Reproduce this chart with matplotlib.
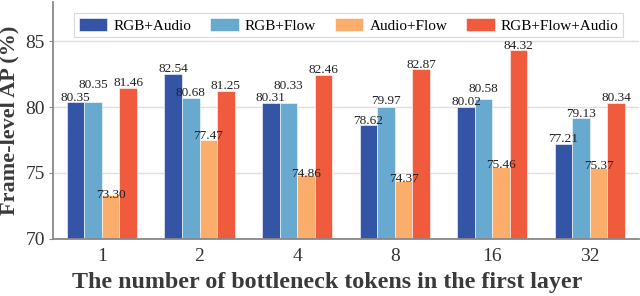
import matplotlib.pyplot as plt
import numpy as np

plt.rcParams['font.family'] = ['Liberation Serif', 'DejaVu Serif']

groups = ['1', '2', '4', '8', '16', '32']
series = ['RGB+Audio', 'RGB+Flow', 'Audio+Flow', 'RGB+Flow+Audio']
rgb_audio = [80.35, 82.54, 80.31, 78.62, 80.02, 77.21]
rgb_flow = [80.35, 80.68, 80.33, 79.97, 80.58, 79.13]
audio_flow = [73.30, 77.47, 74.86, 74.37, 75.46, 75.37]
rgb_flow_audio = [81.46, 81.25, 82.46, 82.87, 84.32, 80.34]
colors = ['#3454a6', '#67a9cf', '#fbae6c', '#f15b3d']

# extra lift (points) for some labels so they don't collide
lift = [
    [0, 0, 0, 0, 0, 0],
    [9, 0, 9, 1, 4, 0],
    [-3, 0, -3, -2, -2, -2],
    [0, 0, 0, 0, 0, 0],
]

fig = plt.figure(figsize=(6.4, 2.96), dpi=100)
ax = fig.add_axes([0.083, 0.194, 0.915, 0.80])

x = np.arange(len(groups))
w = 0.18
data = [rgb_audio, rgb_flow, audio_flow, rgb_flow_audio]
for i, (vals, name, c) in enumerate(zip(data, series, colors)):
    pos = x + (i - 1.5) * w
    bars = ax.bar(pos, vals, w, bottom=0, color=c, edgecolor='white',
                  linewidth=0.4, label=name, zorder=2)
    for j, b in enumerate(bars):
        ax.annotate(f'{vals[j]:.2f}', (b.get_x() + w / 2, vals[j]),
                    xytext=(0, lift[i][j] - 1), textcoords='offset points',
                    ha='center', va='bottom', fontsize=9.5, color='#222222',
                    zorder=3)

ax.set_ylim(70, 88)
ax.set_xlim(-0.5, 5.5)
ax.set_yticks([70, 75, 80, 85])
ax.set_xticks(x)
ax.set_xticklabels(groups)
ax.tick_params(axis='y', direction='out', length=3, labelsize=14,
               colors='#333333', color='#888888', pad=3)
ax.tick_params(axis='x', direction='in', length=4, labelsize=14,
               colors='#333333', color='#555555', pad=7)
ax.yaxis.grid(True, color='#e0e0e0', linewidth=1, zorder=0)
ax.set_axisbelow(True)
for s in ['top', 'right']:
    ax.spines[s].set_visible(False)
for s in ['left', 'bottom']:
    ax.spines[s].set_color('#888888')
    ax.spines[s].set_linewidth(1.3)

ax.set_ylabel('Frame-level AP (%)', fontsize=16, fontweight='bold',
              color='#3a3a3a', labelpad=4)
ax.set_xlabel('The number of bottleneck tokens in the first layer',
              fontsize=17.3, fontweight='bold', color='#3a3a3a')
ax.xaxis.label.set_va('center')
ax.xaxis.set_label_coords(0.468, -0.185)

leg = ax.legend(loc='upper center', bbox_to_anchor=(0.505, 0.985), ncol=4,
                fontsize=11, frameon=True, fancybox=False, edgecolor='#d0d0d0',
                handlelength=1.85, handleheight=1.0, columnspacing=1.25,
                borderpad=0.3, handletextpad=0.4)
leg.get_frame().set_linewidth(0.8)

fig.savefig('out.png', dpi=100)
